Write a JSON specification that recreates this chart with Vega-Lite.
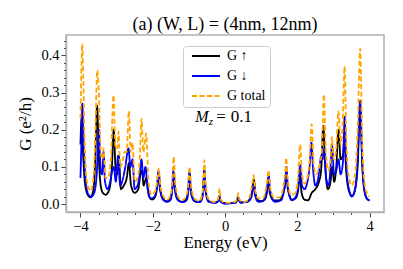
{
  "$schema": "https://vega.github.io/schema/vega-lite/v6.json",
  "width": 318,
  "height": 177,
  "autosize": {"type": "none"},
  "padding": {"left": 66, "top": 35, "right": 19, "bottom": 57},
  "background": "white",
  "config": {
    "view": {"stroke": "#b0b0b0", "strokeWidth": 1.5},
    "font": "Liberation Serif",
    "axis": {
      "domainColor": "#b0b0b0", "domainWidth": 1.5, "tickColor": "#444444", "tickWidth": 1,
      "labelFont": "Liberation Serif", "labelFontSize": 14.5, "labelColor": "black",
      "titleFont": "Liberation Serif", "titleFontSize": 17, "titleFontWeight": "normal", "titleColor": "black",
      "grid": false
    }
  },
  "title": {"text": "(a) (W, L) = (4nm, 12nm)", "font": "Liberation Serif", "fontSize": 18, "fontWeight": "normal", "anchor": "middle", "offset": -1, "color": "black"},
  "datasets": {
    "curves": [
      {"s": "G ↑", "E": -4.0, "G": 0.16}, {"s": "G ↑", "E": -3.97, "G": 0.23}, {"s": "G ↑", "E": -3.93, "G": 0.14}, {"s": "G ↑", "E": -3.88, "G": 0.06}, {"s": "G ↑", "E": -3.8, "G": 0.025}, {"s": "G ↑", "E": -3.72, "G": 0.018}, {"s": "G ↑", "E": -3.64, "G": 0.04}, {"s": "G ↑", "E": -3.59, "G": 0.12}, {"s": "G ↑", "E": -3.54, "G": 0.265}, {"s": "G ↑", "E": -3.49, "G": 0.12}, {"s": "G ↑", "E": -3.44, "G": 0.05}, {"s": "G ↑", "E": -3.38, "G": 0.03}, {"s": "G ↑", "E": -3.3, "G": 0.025}, {"s": "G ↑", "E": -3.2, "G": 0.04}, {"s": "G ↑", "E": -3.13, "G": 0.1}, {"s": "G ↑", "E": -3.08, "G": 0.2}, {"s": "G ↑", "E": -3.03, "G": 0.1}, {"s": "G ↑", "E": -2.98, "G": 0.08}, {"s": "G ↑", "E": -2.94, "G": 0.13}, {"s": "G ↑", "E": -2.88, "G": 0.04}, {"s": "G ↑", "E": -2.8, "G": 0.05}, {"s": "G ↑", "E": -2.72, "G": 0.07}, {"s": "G ↑", "E": -2.66, "G": 0.11}, {"s": "G ↑", "E": -2.6, "G": 0.05}, {"s": "G ↑", "E": -2.5, "G": 0.03}, {"s": "G ↑", "E": -2.4, "G": 0.04}, {"s": "G ↑", "E": -2.34, "G": 0.08}, {"s": "G ↑", "E": -2.3, "G": 0.09}, {"s": "G ↑", "E": -2.25, "G": 0.05}, {"s": "G ↑", "E": -2.18, "G": 0.07}, {"s": "G ↑", "E": -2.1, "G": 0.02}, {"s": "G ↑", "E": -2.02, "G": 0.012}, {"s": "G ↑", "E": -1.93, "G": 0.02}, {"s": "G ↑", "E": -1.87, "G": 0.05}, {"s": "G ↑", "E": -1.83, "G": 0.08}, {"s": "G ↑", "E": -1.79, "G": 0.04}, {"s": "G ↑", "E": -1.72, "G": 0.015}, {"s": "G ↑", "E": -1.62, "G": 0.008}, {"s": "G ↑", "E": -1.52, "G": 0.015}, {"s": "G ↑", "E": -1.46, "G": 0.04}, {"s": "G ↑", "E": -1.42, "G": 0.085}, {"s": "G ↑", "E": -1.38, "G": 0.04}, {"s": "G ↑", "E": -1.3, "G": 0.012}, {"s": "G ↑", "E": -1.2, "G": 0.006}, {"s": "G ↑", "E": -1.08, "G": 0.012}, {"s": "G ↑", "E": -1.02, "G": 0.035}, {"s": "G ↑", "E": -0.98, "G": 0.083}, {"s": "G ↑", "E": -0.94, "G": 0.035}, {"s": "G ↑", "E": -0.86, "G": 0.01}, {"s": "G ↑", "E": -0.76, "G": 0.005}, {"s": "G ↑", "E": -0.66, "G": 0.01}, {"s": "G ↑", "E": -0.61, "G": 0.035}, {"s": "G ↑", "E": -0.57, "G": 0.09}, {"s": "G ↑", "E": -0.53, "G": 0.035}, {"s": "G ↑", "E": -0.45, "G": 0.008}, {"s": "G ↑", "E": -0.3, "G": 0.004}, {"s": "G ↑", "E": -0.19, "G": 0.008}, {"s": "G ↑", "E": -0.16, "G": 0.022}, {"s": "G ↑", "E": -0.13, "G": 0.008}, {"s": "G ↑", "E": 0.0, "G": 0.002}, {"s": "G ↑", "E": 0.3, "G": 0.004}, {"s": "G ↑", "E": 0.36, "G": 0.015}, {"s": "G ↑", "E": 0.42, "G": 0.004}, {"s": "G ↑", "E": 0.6, "G": 0.006}, {"s": "G ↑", "E": 0.72, "G": 0.02}, {"s": "G ↑", "E": 0.76, "G": 0.045}, {"s": "G ↑", "E": 0.8, "G": 0.065}, {"s": "G ↑", "E": 0.84, "G": 0.03}, {"s": "G ↑", "E": 0.92, "G": 0.01}, {"s": "G ↑", "E": 1.0, "G": 0.008}, {"s": "G ↑", "E": 1.1, "G": 0.012}, {"s": "G ↑", "E": 1.16, "G": 0.03}, {"s": "G ↑", "E": 1.2, "G": 0.07}, {"s": "G ↑", "E": 1.24, "G": 0.03}, {"s": "G ↑", "E": 1.35, "G": 0.01}, {"s": "G ↑", "E": 1.5, "G": 0.01}, {"s": "G ↑", "E": 1.6, "G": 0.025}, {"s": "G ↑", "E": 1.66, "G": 0.05}, {"s": "G ↑", "E": 1.7, "G": 0.08}, {"s": "G ↑", "E": 1.74, "G": 0.04}, {"s": "G ↑", "E": 1.85, "G": 0.012}, {"s": "G ↑", "E": 1.95, "G": 0.015}, {"s": "G ↑", "E": 2.02, "G": 0.035}, {"s": "G ↑", "E": 2.07, "G": 0.08}, {"s": "G ↑", "E": 2.12, "G": 0.03}, {"s": "G ↑", "E": 2.2, "G": 0.012}, {"s": "G ↑", "E": 2.3, "G": 0.01}, {"s": "G ↑", "E": 2.4, "G": 0.03}, {"s": "G ↑", "E": 2.5, "G": 0.04}, {"s": "G ↑", "E": 2.6, "G": 0.06}, {"s": "G ↑", "E": 2.66, "G": 0.09}, {"s": "G ↑", "E": 2.72, "G": 0.21}, {"s": "G ↑", "E": 2.78, "G": 0.09}, {"s": "G ↑", "E": 2.85, "G": 0.04}, {"s": "G ↑", "E": 2.92, "G": 0.06}, {"s": "G ↑", "E": 2.97, "G": 0.1}, {"s": "G ↑", "E": 3.02, "G": 0.06}, {"s": "G ↑", "E": 3.08, "G": 0.1}, {"s": "G ↑", "E": 3.14, "G": 0.2}, {"s": "G ↑", "E": 3.2, "G": 0.12}, {"s": "G ↑", "E": 3.26, "G": 0.13}, {"s": "G ↑", "E": 3.3, "G": 0.17}, {"s": "G ↑", "E": 3.36, "G": 0.08}, {"s": "G ↑", "E": 3.45, "G": 0.03}, {"s": "G ↑", "E": 3.52, "G": 0.022}, {"s": "G ↑", "E": 3.6, "G": 0.04}, {"s": "G ↑", "E": 3.67, "G": 0.1}, {"s": "G ↑", "E": 3.74, "G": 0.258}, {"s": "G ↑", "E": 3.8, "G": 0.1}, {"s": "G ↑", "E": 3.87, "G": 0.03}, {"s": "G ↑", "E": 3.95, "G": 0.012}, {"s": "G ↑", "E": 4.0, "G": 0.01},

      {"s": "G ↓", "E": -4.0, "G": 0.07}, {"s": "G ↓", "E": -3.97, "G": 0.18}, {"s": "G ↓", "E": -3.95, "G": 0.27}, {"s": "G ↓", "E": -3.91, "G": 0.16}, {"s": "G ↓", "E": -3.86, "G": 0.07}, {"s": "G ↓", "E": -3.78, "G": 0.025}, {"s": "G ↓", "E": -3.7, "G": 0.02}, {"s": "G ↓", "E": -3.62, "G": 0.03}, {"s": "G ↓", "E": -3.55, "G": 0.08}, {"s": "G ↓", "E": -3.49, "G": 0.2}, {"s": "G ↓", "E": -3.44, "G": 0.09}, {"s": "G ↓", "E": -3.4, "G": 0.08}, {"s": "G ↓", "E": -3.36, "G": 0.14}, {"s": "G ↓", "E": -3.32, "G": 0.06}, {"s": "G ↓", "E": -3.25, "G": 0.04}, {"s": "G ↓", "E": -3.18, "G": 0.06}, {"s": "G ↓", "E": -3.12, "G": 0.09}, {"s": "G ↓", "E": -3.08, "G": 0.1}, {"s": "G ↓", "E": -3.02, "G": 0.06}, {"s": "G ↓", "E": -2.96, "G": 0.13}, {"s": "G ↓", "E": -2.9, "G": 0.05}, {"s": "G ↓", "E": -2.82, "G": 0.07}, {"s": "G ↓", "E": -2.76, "G": 0.1}, {"s": "G ↓", "E": -2.67, "G": 0.15}, {"s": "G ↓", "E": -2.62, "G": 0.1}, {"s": "G ↓", "E": -2.56, "G": 0.12}, {"s": "G ↓", "E": -2.5, "G": 0.04}, {"s": "G ↓", "E": -2.42, "G": 0.05}, {"s": "G ↓", "E": -2.36, "G": 0.08}, {"s": "G ↓", "E": -2.31, "G": 0.12}, {"s": "G ↓", "E": -2.26, "G": 0.07}, {"s": "G ↓", "E": -2.2, "G": 0.1}, {"s": "G ↓", "E": -2.14, "G": 0.04}, {"s": "G ↓", "E": -2.05, "G": 0.015}, {"s": "G ↓", "E": -1.95, "G": 0.02}, {"s": "G ↓", "E": -1.88, "G": 0.05}, {"s": "G ↓", "E": -1.84, "G": 0.09}, {"s": "G ↓", "E": -1.8, "G": 0.04}, {"s": "G ↓", "E": -1.7, "G": 0.01}, {"s": "G ↓", "E": -1.6, "G": 0.006}, {"s": "G ↓", "E": -1.5, "G": 0.012}, {"s": "G ↓", "E": -1.46, "G": 0.04}, {"s": "G ↓", "E": -1.43, "G": 0.09}, {"s": "G ↓", "E": -1.39, "G": 0.04}, {"s": "G ↓", "E": -1.3, "G": 0.01}, {"s": "G ↓", "E": -1.15, "G": 0.005}, {"s": "G ↓", "E": -1.05, "G": 0.012}, {"s": "G ↓", "E": -1.02, "G": 0.035}, {"s": "G ↓", "E": -0.985, "G": 0.085}, {"s": "G ↓", "E": -0.95, "G": 0.035}, {"s": "G ↓", "E": -0.85, "G": 0.008}, {"s": "G ↓", "E": -0.7, "G": 0.005}, {"s": "G ↓", "E": -0.62, "G": 0.02}, {"s": "G ↓", "E": -0.6, "G": 0.04}, {"s": "G ↓", "E": -0.575, "G": 0.09}, {"s": "G ↓", "E": -0.54, "G": 0.035}, {"s": "G ↓", "E": -0.45, "G": 0.006}, {"s": "G ↓", "E": -0.25, "G": 0.003}, {"s": "G ↓", "E": -0.19, "G": 0.008}, {"s": "G ↓", "E": -0.155, "G": 0.022}, {"s": "G ↓", "E": -0.12, "G": 0.006}, {"s": "G ↓", "E": 0.0, "G": 0.001}, {"s": "G ↓", "E": 0.3, "G": 0.004}, {"s": "G ↓", "E": 0.37, "G": 0.018}, {"s": "G ↓", "E": 0.43, "G": 0.004}, {"s": "G ↓", "E": 0.62, "G": 0.006}, {"s": "G ↓", "E": 0.73, "G": 0.018}, {"s": "G ↓", "E": 0.76, "G": 0.035}, {"s": "G ↓", "E": 0.79, "G": 0.05}, {"s": "G ↓", "E": 0.83, "G": 0.025}, {"s": "G ↓", "E": 0.92, "G": 0.006}, {"s": "G ↓", "E": 1.05, "G": 0.008}, {"s": "G ↓", "E": 1.13, "G": 0.025}, {"s": "G ↓", "E": 1.17, "G": 0.045}, {"s": "G ↓", "E": 1.21, "G": 0.08}, {"s": "G ↓", "E": 1.25, "G": 0.035}, {"s": "G ↓", "E": 1.38, "G": 0.006}, {"s": "G ↓", "E": 1.55, "G": 0.01}, {"s": "G ↓", "E": 1.63, "G": 0.035}, {"s": "G ↓", "E": 1.67, "G": 0.06}, {"s": "G ↓", "E": 1.7, "G": 0.1}, {"s": "G ↓", "E": 1.74, "G": 0.045}, {"s": "G ↓", "E": 1.85, "G": 0.01}, {"s": "G ↓", "E": 1.96, "G": 0.02}, {"s": "G ↓", "E": 2.03, "G": 0.05}, {"s": "G ↓", "E": 2.08, "G": 0.105}, {"s": "G ↓", "E": 2.13, "G": 0.05}, {"s": "G ↓", "E": 2.2, "G": 0.04}, {"s": "G ↓", "E": 2.28, "G": 0.06}, {"s": "G ↓", "E": 2.34, "G": 0.1}, {"s": "G ↓", "E": 2.39, "G": 0.165}, {"s": "G ↓", "E": 2.44, "G": 0.09}, {"s": "G ↓", "E": 2.5, "G": 0.05}, {"s": "G ↓", "E": 2.56, "G": 0.06}, {"s": "G ↓", "E": 2.62, "G": 0.1}, {"s": "G ↓", "E": 2.66, "G": 0.13}, {"s": "G ↓", "E": 2.7, "G": 0.12}, {"s": "G ↓", "E": 2.75, "G": 0.15}, {"s": "G ↓", "E": 2.8, "G": 0.07}, {"s": "G ↓", "E": 2.87, "G": 0.05}, {"s": "G ↓", "E": 2.92, "G": 0.1}, {"s": "G ↓", "E": 2.96, "G": 0.16}, {"s": "G ↓", "E": 3.02, "G": 0.08}, {"s": "G ↓", "E": 3.08, "G": 0.09}, {"s": "G ↓", "E": 3.14, "G": 0.12}, {"s": "G ↓", "E": 3.2, "G": 0.08}, {"s": "G ↓", "E": 3.27, "G": 0.12}, {"s": "G ↓", "E": 3.31, "G": 0.235}, {"s": "G ↓", "E": 3.36, "G": 0.1}, {"s": "G ↓", "E": 3.43, "G": 0.04}, {"s": "G ↓", "E": 3.51, "G": 0.02}, {"s": "G ↓", "E": 3.6, "G": 0.04}, {"s": "G ↓", "E": 3.67, "G": 0.12}, {"s": "G ↓", "E": 3.74, "G": 0.278}, {"s": "G ↓", "E": 3.8, "G": 0.11}, {"s": "G ↓", "E": 3.87, "G": 0.03}, {"s": "G ↓", "E": 3.95, "G": 0.012}, {"s": "G ↓", "E": 4.0, "G": 0.01},

      {"s": "G total", "E": -4.0, "G": 0.23}, {"s": "G total", "E": -3.97, "G": 0.38}, {"s": "G total", "E": -3.95, "G": 0.432}, {"s": "G total", "E": -3.92, "G": 0.33}, {"s": "G total", "E": -3.88, "G": 0.15}, {"s": "G total", "E": -3.82, "G": 0.06}, {"s": "G total", "E": -3.72, "G": 0.035}, {"s": "G total", "E": -3.64, "G": 0.07}, {"s": "G total", "E": -3.59, "G": 0.18}, {"s": "G total", "E": -3.535, "G": 0.36}, {"s": "G total", "E": -3.49, "G": 0.3}, {"s": "G total", "E": -3.44, "G": 0.14}, {"s": "G total", "E": -3.39, "G": 0.12}, {"s": "G total", "E": -3.36, "G": 0.15}, {"s": "G total", "E": -3.31, "G": 0.07}, {"s": "G total", "E": -3.24, "G": 0.07}, {"s": "G total", "E": -3.16, "G": 0.12}, {"s": "G total", "E": -3.085, "G": 0.293}, {"s": "G total", "E": -3.03, "G": 0.15}, {"s": "G total", "E": -2.98, "G": 0.15}, {"s": "G total", "E": -2.945, "G": 0.195}, {"s": "G total", "E": -2.9, "G": 0.1}, {"s": "G total", "E": -2.82, "G": 0.12}, {"s": "G total", "E": -2.78, "G": 0.14}, {"s": "G total", "E": -2.72, "G": 0.14}, {"s": "G total", "E": -2.66, "G": 0.25}, {"s": "G total", "E": -2.61, "G": 0.14}, {"s": "G total", "E": -2.56, "G": 0.165}, {"s": "G total", "E": -2.5, "G": 0.06}, {"s": "G total", "E": -2.42, "G": 0.07}, {"s": "G total", "E": -2.36, "G": 0.12}, {"s": "G total", "E": -2.31, "G": 0.23}, {"s": "G total", "E": -2.26, "G": 0.14}, {"s": "G total", "E": -2.18, "G": 0.19}, {"s": "G total", "E": -2.12, "G": 0.06}, {"s": "G total", "E": -2.03, "G": 0.025}, {"s": "G total", "E": -1.93, "G": 0.035}, {"s": "G total", "E": -1.88, "G": 0.06}, {"s": "G total", "E": -1.835, "G": 0.096}, {"s": "G total", "E": -1.79, "G": 0.05}, {"s": "G total", "E": -1.7, "G": 0.02}, {"s": "G total", "E": -1.6, "G": 0.012}, {"s": "G total", "E": -1.5, "G": 0.025}, {"s": "G total", "E": -1.46, "G": 0.06}, {"s": "G total", "E": -1.42, "G": 0.127}, {"s": "G total", "E": -1.38, "G": 0.06}, {"s": "G total", "E": -1.3, "G": 0.02}, {"s": "G total", "E": -1.18, "G": 0.01}, {"s": "G total", "E": -1.06, "G": 0.025}, {"s": "G total", "E": -1.02, "G": 0.05}, {"s": "G total", "E": -0.98, "G": 0.1}, {"s": "G total", "E": -0.94, "G": 0.05}, {"s": "G total", "E": -0.85, "G": 0.015}, {"s": "G total", "E": -0.72, "G": 0.008}, {"s": "G total", "E": -0.62, "G": 0.03}, {"s": "G total", "E": -0.6, "G": 0.055}, {"s": "G total", "E": -0.57, "G": 0.118}, {"s": "G total", "E": -0.54, "G": 0.055}, {"s": "G total", "E": -0.45, "G": 0.012}, {"s": "G total", "E": -0.28, "G": 0.005}, {"s": "G total", "E": -0.19, "G": 0.014}, {"s": "G total", "E": -0.155, "G": 0.042}, {"s": "G total", "E": -0.12, "G": 0.012}, {"s": "G total", "E": 0.0, "G": 0.003}, {"s": "G total", "E": 0.28, "G": 0.006}, {"s": "G total", "E": 0.33, "G": 0.013}, {"s": "G total", "E": 0.365, "G": 0.029}, {"s": "G total", "E": 0.4, "G": 0.012}, {"s": "G total", "E": 0.5, "G": 0.005}, {"s": "G total", "E": 0.65, "G": 0.012}, {"s": "G total", "E": 0.72, "G": 0.035}, {"s": "G total", "E": 0.76, "G": 0.06}, {"s": "G total", "E": 0.79, "G": 0.078}, {"s": "G total", "E": 0.83, "G": 0.04}, {"s": "G total", "E": 0.92, "G": 0.015}, {"s": "G total", "E": 1.05, "G": 0.015}, {"s": "G total", "E": 1.13, "G": 0.04}, {"s": "G total", "E": 1.17, "G": 0.065}, {"s": "G total", "E": 1.205, "G": 0.091}, {"s": "G total", "E": 1.24, "G": 0.05}, {"s": "G total", "E": 1.35, "G": 0.018}, {"s": "G total", "E": 1.52, "G": 0.018}, {"s": "G total", "E": 1.62, "G": 0.05}, {"s": "G total", "E": 1.66, "G": 0.08}, {"s": "G total", "E": 1.695, "G": 0.124}, {"s": "G total", "E": 1.73, "G": 0.07}, {"s": "G total", "E": 1.82, "G": 0.025}, {"s": "G total", "E": 1.95, "G": 0.03}, {"s": "G total", "E": 2.02, "G": 0.07}, {"s": "G total", "E": 2.08, "G": 0.16}, {"s": "G total", "E": 2.13, "G": 0.08}, {"s": "G total", "E": 2.2, "G": 0.055}, {"s": "G total", "E": 2.28, "G": 0.07}, {"s": "G total", "E": 2.34, "G": 0.12}, {"s": "G total", "E": 2.4, "G": 0.215}, {"s": "G total", "E": 2.45, "G": 0.11}, {"s": "G total", "E": 2.52, "G": 0.08}, {"s": "G total", "E": 2.58, "G": 0.09}, {"s": "G total", "E": 2.64, "G": 0.115}, {"s": "G total", "E": 2.68, "G": 0.14}, {"s": "G total", "E": 2.735, "G": 0.295}, {"s": "G total", "E": 2.79, "G": 0.14}, {"s": "G total", "E": 2.86, "G": 0.09}, {"s": "G total", "E": 2.92, "G": 0.12}, {"s": "G total", "E": 2.96, "G": 0.18}, {"s": "G total", "E": 3.01, "G": 0.12}, {"s": "G total", "E": 3.07, "G": 0.14}, {"s": "G total", "E": 3.14, "G": 0.25}, {"s": "G total", "E": 3.2, "G": 0.16}, {"s": "G total", "E": 3.25, "G": 0.2}, {"s": "G total", "E": 3.31, "G": 0.37}, {"s": "G total", "E": 3.36, "G": 0.16}, {"s": "G total", "E": 3.43, "G": 0.07}, {"s": "G total", "E": 3.51, "G": 0.05}, {"s": "G total", "E": 3.6, "G": 0.08}, {"s": "G total", "E": 3.67, "G": 0.2}, {"s": "G total", "E": 3.74, "G": 0.418}, {"s": "G total", "E": 3.8, "G": 0.16}, {"s": "G total", "E": 3.87, "G": 0.05}, {"s": "G total", "E": 3.95, "G": 0.025}, {"s": "G total", "E": 4.0, "G": 0.02}
    ],
    "labels": [
      {"t": "M", "E": -0.82, "G": 0.221, "k": "main"},
      {"t": "z", "E": -0.45, "G": 0.213, "k": "sub"},
      {"t": "=", "E": -0.24, "G": 0.221, "k": "eq"},
      {"t": "0.1", "E": 0.16, "G": 0.221, "k": "eq"}
    ]
  },
  "encoding": {
    "x": {
      "field": "E", "type": "quantitative",
      "scale": {"domain": [-4.4, 4.4], "nice": false, "zero": false},
      "axis": {
        "title": "Energy (eV)", "titlePadding": 2,
        "values": [-4, -3.5, -3, -2.5, -2, -1.5, -1, -0.5, 0, 0.5, 1, 1.5, 2, 2.5, 3, 3.5, 4],
        "labelExpr": "datum.value % 2 === 0 ? format(datum.value, 'd') : ''",
        "tickSize": {"condition": {"test": "datum.value % 2 === 0", "value": 5}, "value": 2.5},
        "labelPadding": 2, "labelOverlap": false, "labelFlush": false
      }
    },
    "y": {
      "field": "G", "type": "quantitative",
      "scale": {"domain": [-0.0215, 0.455], "nice": false, "zero": false},
      "axis": {
        "title": "G (e²/h)", "titlePadding": 6,
        "values": [0, 0.02, 0.04, 0.06, 0.08, 0.1, 0.12, 0.14, 0.16, 0.18, 0.2, 0.22, 0.24, 0.26, 0.28, 0.3, 0.32, 0.34, 0.36, 0.38, 0.4, 0.42, 0.44],
        "labelExpr": "abs(datum.value * 10 - round(datum.value * 10)) < 0.001 ? format(datum.value, '.1f') : ''",
        "tickSize": {"condition": {"test": "abs(datum.value * 10 - round(datum.value * 10)) < 0.001", "value": 5}, "value": 2.5},
        "labelPadding": 2, "labelOverlap": false, "labelFlush": false
      }
    }
  },
  "layer": [
    {
      "data": {"name": "curves"},
      "encoding": {
        "color": {
          "field": "s", "type": "nominal",
          "scale": {"domain": ["G ↑", "G ↓", "G total"], "range": ["black", "blue", "orange"]},
          "legend": {
            "title": null, "orient": "none", "legendX": 117, "legendY": 11,
            "symbolType": "stroke", "symbolSize": 784, "symbolStrokeWidth": 2,
            "clipHeight": 12, "rowPadding": 6, "padding": 4, "symbolOffset": 4,
            "labelFont": "Liberation Serif", "labelFontSize": 14, "labelColor": "black", "labelOffset": 6,
            "strokeColor": "#cccccc", "cornerRadius": 3, "fillColor": "rgba(255,255,255,0.8)"
          }
        },
        "strokeDash": {
          "field": "s", "type": "nominal",
          "scale": {"domain": ["G ↑", "G ↓", "G total"], "range": [[1, 0], [1, 0], [5, 2.5]]},
          "legend": {
            "title": null, "orient": "none", "legendX": 117, "legendY": 11,
            "symbolType": "stroke", "symbolSize": 784, "symbolStrokeWidth": 2,
            "clipHeight": 12, "rowPadding": 6, "padding": 4, "symbolOffset": 4,
            "labelFont": "Liberation Serif", "labelFontSize": 14, "labelColor": "black", "labelOffset": 6,
            "strokeColor": "#cccccc", "cornerRadius": 3, "fillColor": "rgba(255,255,255,0.8)"
          }
        }
      },
      "layer": [
        {"transform": [{"filter": "datum.s === 'G ↑'"}], "mark": {"type": "line", "strokeWidth": 1.8, "interpolate": "monotone", "clip": true}},
        {"transform": [{"filter": "datum.s === 'G ↓'"}], "mark": {"type": "line", "strokeWidth": 1.8, "interpolate": "monotone", "clip": true}},
        {"transform": [{"filter": "datum.s === 'G total'"}], "mark": {"type": "line", "strokeWidth": 1.8, "interpolate": "monotone", "clip": true}}
      ]
    },
    {
      "data": {"name": "labels"},
      "transform": [{"filter": "datum.k === 'main'"}],
      "mark": {"type": "text", "font": "Liberation Serif", "fontStyle": "italic", "fontSize": 16, "align": "left", "baseline": "alphabetic", "color": "black"},
      "encoding": {"text": {"field": "t"}}
    },
    {
      "data": {"name": "labels"},
      "transform": [{"filter": "datum.k === 'sub'"}],
      "mark": {"type": "text", "font": "Liberation Serif", "fontStyle": "italic", "fontSize": 11, "align": "left", "baseline": "alphabetic", "color": "black"},
      "encoding": {"text": {"field": "t"}}
    },
    {
      "data": {"name": "labels"},
      "transform": [{"filter": "datum.k === 'eq'"}],
      "mark": {"type": "text", "font": "Liberation Serif", "fontSize": 17, "align": "left", "baseline": "alphabetic", "color": "black"},
      "encoding": {"text": {"field": "t"}}
    }
  ]
}
